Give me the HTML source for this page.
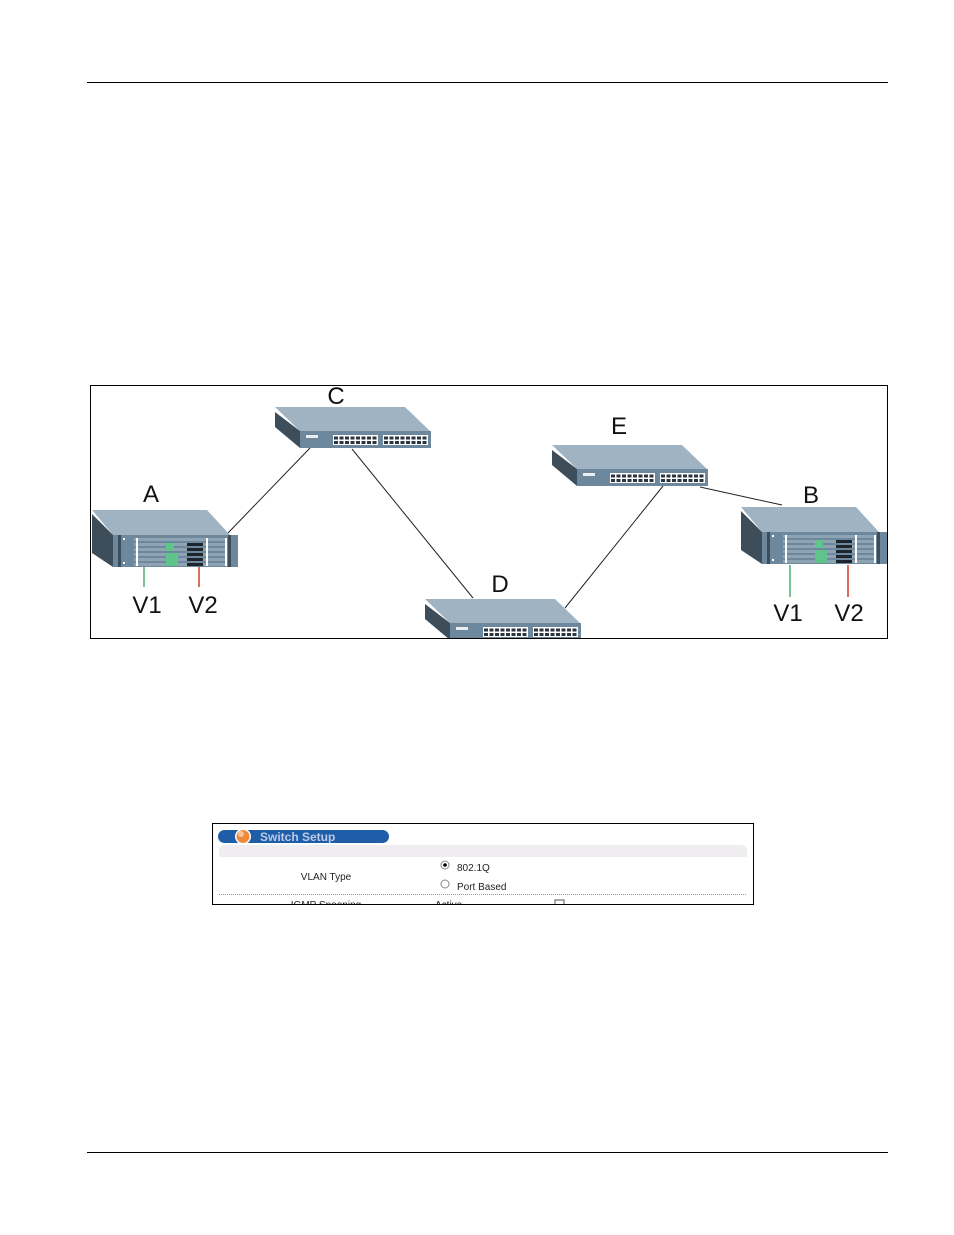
<!DOCTYPE html>
<html><head><meta charset="utf-8"><style>
body{margin:0;background:#fff;}
svg{display:block;}
text{font-family:"Liberation Sans",sans-serif;}
</style></head><body>
<svg width="954" height="1235" viewBox="0 0 954 1235" xmlns="http://www.w3.org/2000/svg">
<defs>
<g id="sw">
  <polygon points="0,0 130,0 155,24 25,24" fill="#9fb3c3"/>
  <polygon points="0,5 25,24 25,41 0,20" fill="#3e4d5a"/>
  <rect x="25" y="24" width="131" height="17" fill="#6d889d"/>
  <rect x="31" y="28" width="12" height="3" fill="#e8eef2"/>
  <rect x="58" y="28" width="45" height="10" fill="#fff"/>
  <rect x="108" y="28" width="45" height="10" fill="#fff"/>
  <g stroke="#2b3540" stroke-width="3" stroke-dasharray="4,1.5">
    <line x1="59" y1="31" x2="102" y2="31"/><line x1="59" y1="35.5" x2="102" y2="35.5"/>
    <line x1="109" y1="31" x2="152" y2="31"/><line x1="109" y1="35.5" x2="152" y2="35.5"/>
  </g>
</g>
<g id="ch">
  <polygon points="0,2 115,2 138,27 21,27" fill="#9fb3c3"/>
  <polygon points="0,6 21,27 21,59 0,45" fill="#3e4d5a"/>
  <rect x="21" y="27" width="125" height="32" fill="#6d879c"/>
  <rect x="26" y="27" width="3" height="32" fill="#3e4d5a"/>
  <rect x="136" y="27" width="3" height="32" fill="#3e4d5a"/>
  <g fill="#8ea3b4">
    <rect x="42" y="30" width="93" height="3"/><rect x="42" y="35" width="93" height="3"/>
    <rect x="42" y="40" width="93" height="3"/><rect x="42" y="45" width="93" height="3"/>
    <rect x="42" y="50" width="93" height="3"/><rect x="42" y="55" width="93" height="3"/>
  </g>
  <g fill="#5fc48a"><rect x="74" y="35" width="8" height="8"/><rect x="74" y="45" width="12" height="13"/></g>
  <g fill="#1e252c"><rect x="95" y="35" width="16" height="3"/><rect x="95" y="40" width="16" height="3"/><rect x="95" y="45" width="16" height="3"/><rect x="95" y="50" width="16" height="3"/><rect x="95" y="55" width="16" height="3"/></g>
  <g fill="#fff"><rect x="44" y="30" width="2" height="28"/><rect x="114" y="30" width="2" height="28"/><rect x="133" y="30" width="2" height="28"/><rect x="31" y="30" width="2" height="2"/><rect x="31" y="54" width="2" height="2"/></g>
</g>
</defs>
<line x1="87" y1="82.5" x2="888" y2="82.5" stroke="#000" stroke-width="1"/>
<line x1="87" y1="1152.5" x2="888" y2="1152.5" stroke="#000" stroke-width="1"/>

<rect x="90.5" y="385.5" width="797" height="253" fill="#fff" stroke="#000" stroke-width="1"/>
<g stroke="#222" stroke-width="1">
  <line x1="228" y1="533" x2="310" y2="448"/>
  <line x1="352" y1="449" x2="473" y2="598"/>
  <line x1="565" y1="608" x2="663" y2="486"/>
  <line x1="700" y1="487" x2="782" y2="505"/>
</g>
<use href="#sw" x="275" y="407"/>
<use href="#sw" x="552" y="445"/>
<use href="#sw" x="425" y="599"/>
<use href="#ch" x="92" y="508"/>
<use href="#ch" x="741" y="505"/>
<rect x="888" y="500" width="66" height="80" fill="#fff"/>
<line x1="887.5" y1="385" x2="887.5" y2="639" stroke="#000"/>
<rect x="420" y="639" width="200" height="10" fill="#fff"/>
<line x1="90" y1="638.5" x2="888" y2="638.5" stroke="#000"/>
<line x1="144" y1="567" x2="144" y2="587" stroke="#4caf70" stroke-width="1.5"/>
<line x1="199" y1="567" x2="199" y2="587" stroke="#d23a2a" stroke-width="1.5"/>
<line x1="790" y1="565" x2="790" y2="597" stroke="#4caf70" stroke-width="1.5"/>
<line x1="848" y1="565" x2="848" y2="597" stroke="#d23a2a" stroke-width="1.5"/>
<g font-size="24" fill="#111" text-anchor="middle">
  <text x="336" y="404">C</text>
  <text x="151" y="502">A</text>
  <text x="147" y="613">V1</text>
  <text x="203" y="613">V2</text>
  <text x="619" y="434">E</text>
  <text x="500" y="592">D</text>
  <text x="811" y="503">B</text>
  <text x="788" y="621">V1</text>
  <text x="849" y="621">V2</text>
</g>

<rect x="212.5" y="823.5" width="541" height="81" fill="#fff" stroke="#000"/>
<rect x="218" y="830" width="171" height="13" rx="6.5" fill="#1f5da8"/>
<circle cx="243" cy="836.5" r="8" fill="#fff"/>
<circle cx="243" cy="836.5" r="6.5" fill="#ee8a3c"/>
<circle cx="241" cy="834" r="3" fill="#f7c39a"/>
<text x="260" y="841" font-size="12" font-weight="bold" fill="#b9cbe8">Switch Setup</text>
<rect x="219" y="845" width="528" height="12" rx="6" fill="#efedef"/>
<rect x="219" y="851" width="528" height="6" fill="#efedef"/>
<text x="326" y="880" font-size="10" text-anchor="middle" fill="#222">VLAN Type</text>
<circle cx="445" cy="865" r="4" fill="#fff" stroke="#888" stroke-width="1"/>
<circle cx="445" cy="865" r="1.8" fill="#000"/>
<text x="457" y="871" font-size="10" fill="#222">802.1Q</text>
<circle cx="445" cy="884" r="4" fill="#fff" stroke="#888" stroke-width="1"/>
<text x="457" y="890" font-size="10" fill="#222">Port Based</text>
<line x1="219" y1="894.5" x2="747" y2="894.5" stroke="#999" stroke-dasharray="1,1"/>
<text x="326" y="908" font-size="10" text-anchor="middle" fill="#222">IGMP Snooping</text>
<text x="435" y="908" font-size="10" fill="#222">Active</text>
<rect x="555" y="900" width="9" height="9" fill="#fff" stroke="#555"/>
<rect x="212" y="904" width="543" height="10" fill="#fff"/>
<line x1="212" y1="904.5" x2="754" y2="904.5" stroke="#000"/>
</svg>
</body></html>
